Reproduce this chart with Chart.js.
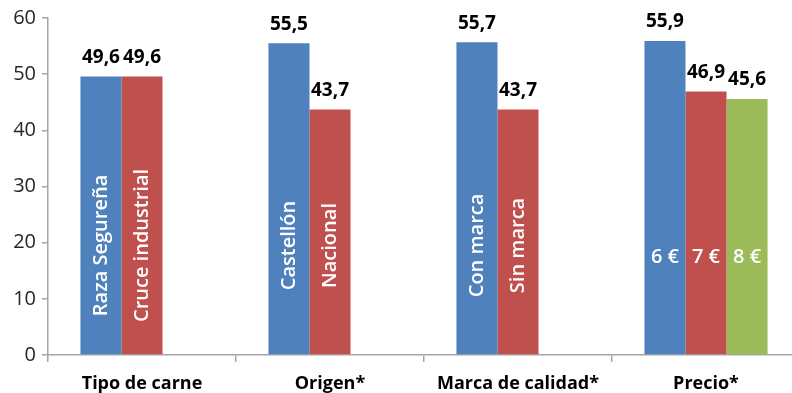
<!DOCTYPE html>
<html>
<head>
<meta charset="utf-8">
<script src="https://cdn.jsdelivr.net/npm/chart.js@4/dist/chart.umd.min.js"></script>
<style>
  html, body { margin: 0; padding: 0; background: #ffffff; overflow: hidden; }
  #wrap { width: 800px; height: 393px; position: relative; }
</style>
</head>
<body>
<div id="wrap"><canvas id="c"></canvas></div>
<script>
// ---- data ----
const categories = ['Tipo de carne', 'Origen*', 'Marca de calidad*', 'Precio*'];
const serieA = [49.6, 55.5, 55.7, 55.9];
const serieB = [49.6, 43.7, 43.7, 46.9];
const serieC = [null, null, null, 45.6];
const innerA = ['Raza Segureña', 'Castellón', 'Con marca', '6 €'];
const innerB = ['Cruce industrial', 'Nacional', 'Sin marca', '7 €'];
const innerC = [null, null, null, '8 €'];
const yMin = 0, yMax = 60, yStep = 10;

const innerLabels = [innerA, innerB, innerC];
const verticalInner = [true, true, true, false];
const FONT = "'Open Sans', 'DejaVu Sans', sans-serif";

const labelPlugin = {
  id: 'labels',
  afterDatasetsDraw(chart) {
    const ctx = chart.ctx;
    const ys = chart.scales.y;
    chart.data.datasets.forEach((ds, di) => {
      const meta = chart.getDatasetMeta(di);
      meta.data.forEach((bar, i) => {
        const v = ds.data[i];
        if (v === null || v === undefined) return;
        // value label above bar
        ctx.save();
        ctx.font = "bold 19px " + FONT;
        ctx.fillStyle = '#000000';
        ctx.textAlign = 'center';
        ctx.textBaseline = 'middle';
        ctx.fillText(v.toFixed(1).replace('.', ','), bar.x, bar.y - 19);
        ctx.restore();
        // inner label
        const t = innerLabels[di][i];
        if (!t) return;
        ctx.save();
        ctx.font = "600 20px " + FONT;
        ctx.fillStyle = '#ffffff';
        ctx.textAlign = 'center';
        ctx.textBaseline = 'middle';
        if (verticalInner[i]) {
          ctx.translate(bar.x, ys.getPixelForValue(19.5));
          ctx.rotate(-Math.PI / 2);
          ctx.fillText(t, 0, 0);
        } else {
          ctx.fillText(t, bar.x, ys.getPixelForValue(17.4));
        }
        ctx.restore();
      });
    });
  }
};

new Chart(document.getElementById('c'), {
  type: 'bar',
  data: {
    labels: categories,
    datasets: [
      { data: serieA, backgroundColor: '#4F81BD' },
      { data: serieB, backgroundColor: '#C0504D' },
      { data: serieC, backgroundColor: '#9BBB59' }
    ]
  },
  options: {
    responsive: true,
    maintainAspectRatio: false,
    animation: false,
    layout: { padding: { top: 17, right: 0, bottom: 0, left: 0 } },
    plugins: { legend: { display: false }, tooltip: { enabled: false } },
    datasets: { bar: { categoryPercentage: 0.655, barPercentage: 1.0 } },
    scales: {
      x: {
        grid: { display: true, drawOnChartArea: false, offset: true, tickLength: 7, color: '#a6a6a6', lineWidth: 1.5 },
        border: { display: true, color: '#a6a6a6', width: 1.5 },
        ticks: { color: '#000000', font: { family: FONT, size: 18, weight: 'bold' }, padding: 11, maxRotation: 0 },
        afterFit(s) { s.height = 38; }
      },
      y: {
        min: yMin, max: yMax,
        grid: { display: true, drawOnChartArea: false, tickLength: 6, color: '#a6a6a6', lineWidth: 1.5 },
        border: { display: true, color: '#a6a6a6', width: 1.5 },
        ticks: { stepSize: yStep, color: '#262626', font: { family: FONT, size: 20 }, padding: 6 },
        afterFit(s) { s.width = 48; }
      }
    }
  },
  plugins: [labelPlugin]
});
</script>
</body>
</html>
